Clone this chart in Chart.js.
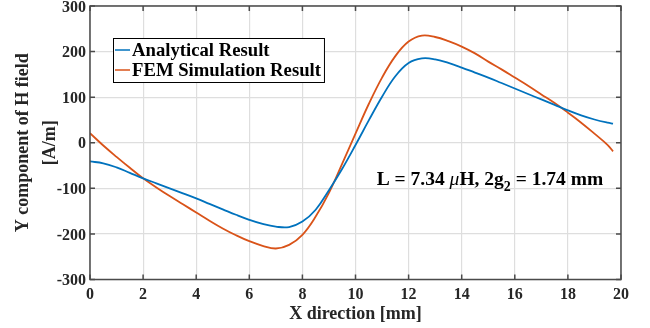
<!DOCTYPE html>
<html>
<head>
<meta charset="utf-8">
<script src="https://cdn.jsdelivr.net/npm/chart.js@4/dist/chart.umd.min.js"></script>
<style>
  html, body { margin: 0; padding: 0; background: #fff; }
  canvas { display: block; }
</style>
</head>
<body>
<canvas id="fieldChart" width="650" height="328" style="width:650px;height:328px"></canvas>
<script>
// x positions along the gap [mm]
const xPos = [0, 0.5, 1, 1.5, 2, 2.5, 3, 3.5, 4, 4.5, 5, 5.5, 6, 6.5, 7, 7.5, 8, 8.5, 9, 9.5,
  10, 10.5, 11, 11.5, 12, 12.5, 13, 13.5, 14, 14.5, 15, 15.5, 16, 16.5, 17, 17.5, 18, 18.5, 19, 19.5, 19.7];

// Hy [A/m]
const analytical = [-41, -45, -54, -66, -78, -89, -100, -111, -122, -134, -146, -158, -169, -178, -184, -185, -173, -147, -104, -57,
  -5, 49, 101, 146, 175, 185, 183, 175, 165, 154, 143, 131, 119, 107, 95, 83, 71, 60, 51, 44, 42];
const femSim = [21, -6, -31, -55, -78, -98, -117, -135, -153, -171, -188, -203, -216, -226, -232, -224, -202, -162, -110, -46,
  20, 85, 143, 190, 222, 235, 232, 223, 211, 196, 178, 161, 143, 125, 106, 87, 66, 44, 20, -5, -19];

const seriesLabels = ['Analytical Result', 'FEM Simulation Result'];
const seriesColors = ['#0072BD', '#D95319'];

const xTicks = [0, 2, 4, 6, 8, 10, 12, 14, 16, 18, 20];
const yTicks = [-300, -200, -100, 0, 100, 200, 300];

const serif = "'Liberation Serif', 'Times New Roman', serif";

function toPoints(ys) {
  return xPos.map((x, i) => ({ x: x, y: ys[i] }));
}

// box around the axes with inward ticks, legend box, and the text note
const decorPlugin = {
  id: 'decor',
  afterDatasetsDraw(chart) {
    const { ctx, chartArea } = chart;
    const xs = chart.scales.x, ys = chart.scales.y;
    const { left, right, top, bottom } = chartArea;

    ctx.save();
    ctx.strokeStyle = '#4a4a4a';
    ctx.lineWidth = 1.5;
    ctx.strokeRect(left, top, right - left, bottom - top);

    const tl = 5;
    ctx.beginPath();
    xTicks.forEach(v => {
      const px = xs.getPixelForValue(v);
      ctx.moveTo(px, bottom); ctx.lineTo(px, bottom - tl);
      ctx.moveTo(px, top); ctx.lineTo(px, top + tl);
    });
    yTicks.forEach(v => {
      const py = ys.getPixelForValue(v);
      ctx.moveTo(left, py); ctx.lineTo(left + tl, py);
      ctx.moveTo(right, py); ctx.lineTo(right - tl, py);
    });
    ctx.stroke();

    // legend
    ctx.font = 'bold 18.7px ' + serif;
    const widths = chart.data.datasets.map(d => ctx.measureText(d.label).width);
    const bx = left + 23, by = top + 32;
    const bw = 19 + Math.max(...widths) + 3, bh = 44;
    ctx.fillStyle = '#fff';
    ctx.fillRect(bx, by, bw, bh);
    ctx.strokeStyle = '#000';
    ctx.lineWidth = 1;
    ctx.strokeRect(bx + 0.5, by + 0.5, bw, bh);
    ctx.textBaseline = 'middle';
    ctx.textAlign = 'left';
    chart.data.datasets.forEach((d, i) => {
      const cy = by + 12 + i * 20;
      ctx.strokeStyle = d.borderColor;
      ctx.lineWidth = 1.5;
      ctx.beginPath();
      ctx.moveTo(bx + 2, cy); ctx.lineTo(bx + 17, cy);
      ctx.stroke();
      ctx.fillStyle = '#000';
      ctx.fillText(d.label, bx + 19, cy + 1);
    });

    // note: L = 7.34 uH, 2g2 = 1.74 mm
    let tx = xs.getPixelForValue(10.8);
    const ty = ys.getPixelForValue(-93);
    ctx.textBaseline = 'alphabetic';
    ctx.fillStyle = '#000';
    const parts = [
      { t: 'L = 7.34 ', f: 'bold 19.5px ' + serif, dy: 0 },
      { t: '\u03bc', f: 'italic 19.5px ' + serif, dy: 0 },
      { t: 'H, 2g', f: 'bold 19.5px ' + serif, dy: 0 },
      { t: '2', f: 'bold 14px ' + serif, dy: 6 },
      { t: ' = 1.74 mm', f: 'bold 19.5px ' + serif, dy: 0 }
    ];
    parts.forEach(p => {
      ctx.font = p.f;
      ctx.fillText(p.t, tx, ty + p.dy);
      tx += ctx.measureText(p.t).width;
    });
    ctx.restore();
  }
};

new Chart(document.getElementById('fieldChart'), {
  type: 'line',
  data: {
    datasets: [
      { label: seriesLabels[0], data: toPoints(analytical), borderColor: seriesColors[0], backgroundColor: seriesColors[0] },
      { label: seriesLabels[1], data: toPoints(femSim), borderColor: seriesColors[1], backgroundColor: seriesColors[1] }
    ]
  },
  options: {
    responsive: false,
    animation: false,
    layout: { padding: { top: 6, right: 29, left: 0, bottom: 0 } },
    elements: {
      line: { borderWidth: 1.8, tension: 0.4 },
      point: { radius: 0, hoverRadius: 0 }
    },
    plugins: {
      legend: { display: false },
      tooltip: { enabled: false }
    },
    scales: {
      x: {
        type: 'linear',
        min: 0, max: 20,
        afterBuildTicks: s => { s.ticks = xTicks.map(v => ({ value: v })); },
        afterFit: s => { s.height = 48.5; s.paddingLeft = 0; s.paddingRight = 0; },
        grid: { color: '#dedede', lineWidth: 1.2, drawTicks: false },
        border: { display: false },
        ticks: { padding: 6, color: '#262626', font: { family: serif, size: 16, weight: 'bold' }, maxRotation: 0 },
        title: {
          display: true,
          text: 'X direction [mm]',
          color: '#262626',
          padding: { top: 0, bottom: 3 },
          font: { family: serif, size: 18, weight: 'bold' }
        }
      },
      y: {
        min: -300, max: 300,
        afterBuildTicks: s => { s.ticks = yTicks.map(v => ({ value: v })); },
        afterFit: s => { s.width = 90; s.paddingTop = 0; s.paddingBottom = 0; },
        grid: { color: '#dedede', lineWidth: 1.2, drawTicks: false },
        border: { display: false },
        ticks: { padding: 4, labelOffset: 1.5, color: '#262626', font: { family: serif, size: 16, weight: 'bold' } },
        title: {
          display: true,
          text: ['Y component of H field', '[A/m]'],
          color: '#262626',
          padding: { top: 10, bottom: 0 },
          font: { family: serif, size: 18, weight: 'bold', lineHeight: 1.5 }
        }
      }
    }
  },
  plugins: [decorPlugin]
});
</script>
</body>
</html>
